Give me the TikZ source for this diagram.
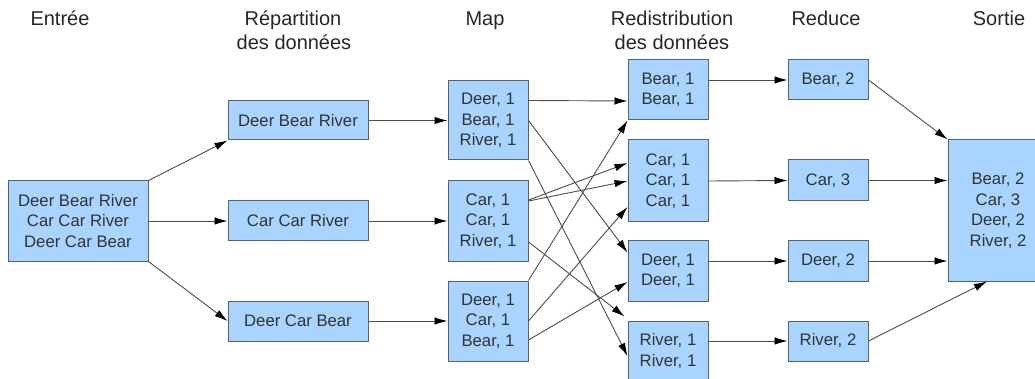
\documentclass[tikz,border=0pt]{standalone}
\usepackage{fontspec}
\setmainfont{Liberation Sans}
\usetikzlibrary{arrows.meta}
\definecolor{boxblue}{HTML}{A8D4FF}
\definecolor{boxline}{HTML}{58626C}
\definecolor{txt}{HTML}{333333}
\begin{document}
\begin{tikzpicture}[x=1pt, y=-1pt,
						box/.style={draw=boxline, fill=boxblue, line width=1pt, inner sep=0pt, align=center,
							text=txt, font=\fontsize{16.7}{20.5}\selectfont},
						head/.style={anchor=base, text=black!85, font=\fontsize{20}{24}\selectfont},
						arr/.style={-{Latex[length=13pt,width=7.5pt,color=black]}, draw=black!70, line width=0.9pt},
					]
					\useasboundingbox (0,0) rectangle (1035,379);
					\clip (0,0) rectangle (1035,379);

					% titres
					\node[head] (h1) at (60,25.7) {Entrée};
					\node[head] (h2) at (293,25.7) {Répartition};
					\node[head] (h2b) at (294,49.5) {des données};
					\node[head] (h3) at (485,25.7) {Map};
					\node[head] (h4) at (672,25.7) {Redistribution};
					\node[head] (h4b) at (672,49.5) {des données};
					\node[head] (h5) at (826,25.7) {Reduce};
					\node[head] (h6) at (999,25.7) {Sortie};

					% entree et repartition
					\node[box, minimum width=140pt, minimum height=80pt] (in) at (78,221) {Deer Bear River\\Car Car River\\Deer Car Bear};
					\node[box, minimum width=140pt, minimum height=39pt] (rep1) at (298,120.5) {Deer Bear River};
					\node[box, minimum width=140pt, minimum height=40pt] (rep2) at (298,221) {Car Car River};
					\node[box, minimum width=140pt, minimum height=40pt] (rep3) at (298,321) {Deer Car Bear};

					% map
					\node[box, minimum width=80pt, minimum height=79pt] (map1) at (488,120.5) {Deer, 1\\Bear, 1\\River, 1};
					\node[box, minimum width=80pt, minimum height=80pt] (map2) at (488,221) {Car, 1\\Car, 1\\River, 1};
					\node[box, minimum width=80pt, minimum height=80pt] (map3) at (488,321) {Deer, 1\\Car, 1\\Bear, 1};

					% redistribution
					\node[box, minimum width=80pt, minimum height=60pt] (bear) at (668,90) {Bear, 1\\Bear, 1};
					\node[box, minimum width=80pt, minimum height=82pt] (car) at (668,181) {Car, 1\\Car, 1\\Car, 1};
					\node[box, minimum width=80pt, minimum height=60pt] (deer) at (668,271) {Deer, 1\\Deer, 1};
					\node[box, minimum width=80pt, minimum height=60pt] (river) at (668,351) {River, 1\\River, 1};

					% reduce
					\node[box, minimum width=80pt, minimum height=40pt] (bear2) at (828,80) {Bear, 2};
					\node[box, minimum width=80pt, minimum height=41pt] (car3) at (828,180.5) {Car, 3};
					\node[box, minimum width=80pt, minimum height=40pt] (deer2) at (828,261) {Deer, 2};
					\node[box, minimum width=80pt, minimum height=40pt] (river2) at (828,341) {River, 2};

					% sortie
					\node[box, minimum width=100pt, minimum height=141pt] (out) at (998,210.5) {Bear, 2\\Car, 3\\Deer, 2\\River, 2};

					\draw[arr] (in.north east) -- (rep1.south west);
					\draw[arr] (in.east) -- (rep2.west);
					\draw[arr] (in.south east) -- (rep3.west);
					\foreach \i in {1,2,3}
						{ \draw[arr] (rep\i.east) -- (map\i.west);}

					\draw[arr] ([yshift=20pt]map1.east) -- ([yshift=-11pt]bear.west);
					\draw[arr] (map1.east) -- ([yshift=-12pt]deer.north west);
					\draw[arr] (map1.south east) -- ([yshift=-5pt]river.west);
					\draw[arr] ([yshift=21pt]map2.east) -- ([yshift=18pt]car.west);
					\draw[arr] ([yshift=20pt]map2.east) -- (car.west);
					\draw[arr] ([yshift=-21pt]map2.east) -- ([xshift=-3pt,yshift=4pt]river.north west);
					\draw[arr] (map3.north east) -- (bear.south west);
					\draw[arr] (map3.east) -- ([yshift=-26pt]car.west);
					\draw[arr] ([yshift=-19pt]map3.east) -- ([yshift=-11pt]deer.west);

					\draw[arr] ([yshift=10pt]bear.east) -- (bear2.west);
					\draw[arr] (car.east) -- (car3.west);
					\draw[arr] ([yshift=10pt]deer.east) -- (deer2.west);
					\draw[arr] ([yshift=10pt]river.east) -- (river2.west);

					\draw[arr] (bear2.east) -- (out.north west);
					\draw[arr] (car3.east) -- (car3.east -| out.west);
					\draw[arr] (deer2.east) -- (deer2.east -| out.west);
					\draw[arr] (river2.east) -- ([xshift=-11pt]out.south);

				\end{tikzpicture}
\end{document}
